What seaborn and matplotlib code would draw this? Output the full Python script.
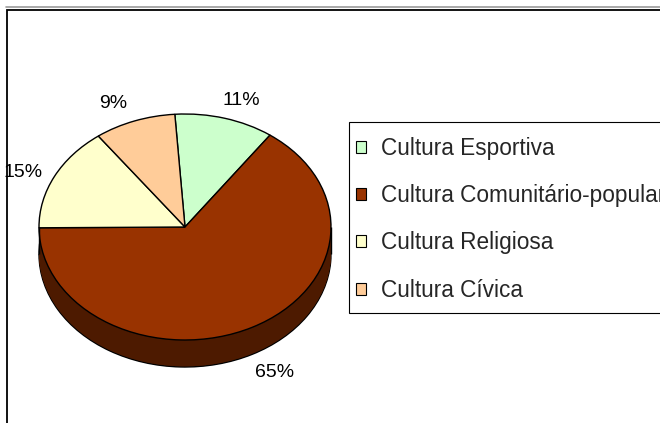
import matplotlib
matplotlib.use("Agg")
import matplotlib.pyplot as plt
import seaborn as sns
from matplotlib.patches import Patch, Rectangle
from matplotlib.lines import Line2D

# Share of each cultural group (percent)
categories = ["Cultura Esportiva", "Cultura Comunitário-popular",
              "Cultura Religiosa", "Cultura Cívica"]
shares = [11, 65, 15, 9]
top_colors = ["#CCFFCC", "#993300", "#FFFFCC", "#FFCC99"]
side_colors = ["#668066", "#4D1A00", "#808066", "#806650"]

sns.set_style("white")
plt.rcParams["font.family"] = ["Liberation Sans", "DejaVu Sans"]

W, H = 660, 423
fig = plt.figure(figsize=(W / 100, H / 100), dpi=100)

# outer chart frame
fig.add_artist(Line2D([6 / W, 1], [1 - 7.5 / H] * 2, color="#9a9a9a", lw=1.2))
fig.add_artist(Rectangle((7 / W, -0.1), 1.2, (H - 10) / H + 0.1, fill=False,
                         ec="black", lw=1.3, transform=fig.transFigure))

# pie axes: 146 px per x unit, 113 px per y unit -> tilted ellipse
cx, cy = 185, H - 227
sx, sy = 146, 113
x0, x1 = -1.25, 1.25
y0, y1 = -1.75, 1.35
ax = fig.add_axes([(cx + x0 * sx) / W, (cy + y0 * sy) / H,
                   (x1 - x0) * sx / W, (y1 - y0) * sy / H])

depth = 27 / sy
start = 94
pie_kw = dict(startangle=start, counterclock=False)

# bottom face (outline of the rim)
ax.pie(shares, colors=side_colors, center=(0, -depth),
       wedgeprops=dict(edgecolor="black", linewidth=1.0), **pie_kw)
# side wall built from stacked layers
n_layers = 40
for i in range(1, n_layers):
    off = -depth + depth * i / n_layers
    ax.pie(shares, colors=side_colors, center=(0, off),
           wedgeprops=dict(edgecolor="none", linewidth=0), **pie_kw)
ax.vlines([-1, 1], -depth, 0, colors="black", lw=1.0, zorder=5)

# top face with percentage labels
wedges, texts, autotexts = ax.pie(
    shares, colors=top_colors, center=(0, 0), autopct="%1.0f%%",
    pctdistance=1.24, textprops=dict(fontsize=14, color="black"),
    wedgeprops=dict(edgecolor="black", linewidth=1.0), **pie_kw)
for t in autotexts:
    x, y = t.get_position()
    if y < 0:
        t.set_position((x * 1.08, y - depth + 0.05))
    else:
        t.set_position((x * 1.15 if abs(x) < 1 else x, y - 0.07))
    t.set_zorder(10)

ax.set_aspect("auto")
ax.set_xlim(x0, x1)
ax.set_ylim(y0, y1)
ax.axis("off")

# legend entries, with a plain box behind them
handles = [Patch(facecolor=c, edgecolor="black", linewidth=0.8) for c in top_colors]
leg = fig.legend(handles, categories, loc="upper left",
                 bbox_to_anchor=(356 / W, 1 - 137 / H), borderaxespad=0,
                 frameon=False, fontsize=16.3, handlelength=0.45,
                 handleheight=0.45, handletextpad=0.66, labelspacing=1.07,
                 borderpad=0)
fig.add_artist(Rectangle((349 / W, 1 - 313 / H), 1, (313 - 122) / H,
                         facecolor="white", edgecolor="black", lw=0.8,
                         transform=fig.transFigure, zorder=0.5))

fig.savefig("out.png", dpi=100)
